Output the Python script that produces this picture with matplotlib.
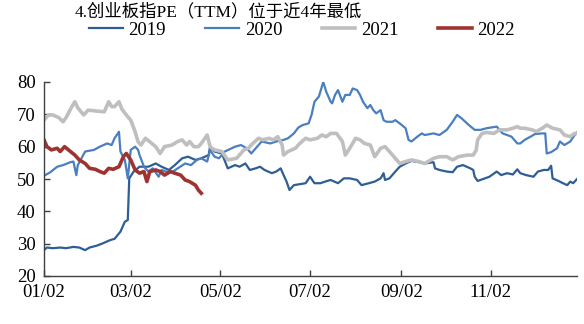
import matplotlib
matplotlib.use("Agg")
import matplotlib.pyplot as plt
import matplotlib.dates as mdates
import pandas as pd

title = "4.创业板指PE（TTM）位于近4年最低"
tick_dates = ["01-02", "03-02", "05-02", "07-02", "09-02", "11-02"]
y_ticks = [20, 30, 40, 50, 60, 70, 80]

dates_2019 = ["01-02", "01-04", "01-08", "01-13", "01-17", "01-22", "01-26", "01-30", "02-02", "02-07",
              "02-11", "02-16", "02-19", "02-23", "02-26", "02-28", "03-01", "03-04", "03-08", "03-14",
              "03-19", "03-23", "03-28", "04-01", "04-06", "04-10", "04-15", "04-19", "04-24", "04-25",
              "04-28", "05-03", "05-07", "05-12", "05-15", "05-19", "05-22", "05-26", "05-29", "06-01",
              "06-06", "06-09", "06-12", "06-14", "06-16", "06-18", "06-21", "06-25", "06-29", "07-02",
              "07-05", "07-09", "07-13", "07-16", "07-21", "07-25", "07-29", "08-03", "08-06", "08-11",
              "08-15", "08-19", "08-21", "08-22", "08-25", "08-29", "09-01", "09-05", "09-09", "09-14",
              "09-18", "09-24", "09-25", "09-28", "10-03", "10-07", "10-10", "10-14", "10-19", "10-21",
              "10-22", "10-24", "10-29", "11-01", "11-06", "11-09", "11-13", "11-17", "11-20", "11-22",
              "11-26", "12-01", "12-04", "12-08", "12-11", "12-13", "12-14", "12-18", "12-21", "12-24",
              "12-26", "12-28", "12-31"]
pe_2019 = [28.0, 28.8, 28.6, 28.8, 28.6, 29.0, 28.8, 28.0, 28.8, 29.4,
           30.1, 31.1, 31.5, 33.7, 36.8, 37.3, 50.2, 52.3, 53.8, 53.8,
           54.8, 53.8, 52.8, 54.3, 56.4, 56.9, 55.9, 56.4, 57.4, 60.0,
           58.5, 57.9, 53.3, 54.3, 53.8, 54.8, 52.8, 53.3, 53.8, 52.8,
           51.8, 52.3, 53.3, 51.2, 49.2, 46.6, 48.1, 48.4, 48.7, 50.7,
           48.7, 48.7, 49.3, 49.7, 48.7, 50.2, 50.2, 49.7, 48.1, 48.7,
           49.2, 50.2, 51.8, 49.7, 50.2, 52.3, 53.8, 54.8, 55.6, 55.2,
           54.8, 55.2, 53.3, 52.8, 52.3, 52.1, 53.8, 54.3, 53.3, 52.8,
           50.7, 49.4, 50.2, 50.7, 52.3, 51.2, 51.8, 51.4, 53.0, 51.8,
           51.2, 50.7, 52.3, 52.8, 52.8, 54.1, 50.2, 49.4, 48.7, 48.1,
           49.2, 48.7, 50.2]

dates_2020 = ["01-02", "01-06", "01-11", "01-15", "01-20", "01-22", "01-24", "01-25", "01-30", "02-05",
              "02-09", "02-14", "02-17", "02-19", "02-22", "02-23", "02-26", "02-28", "03-02", "03-05",
              "03-07", "03-08", "03-11", "03-14", "03-17", "03-21", "03-23", "03-26", "03-30", "04-03",
              "04-08", "04-12", "04-16", "04-19", "04-23", "04-25", "04-28", "05-01", "05-05", "05-12",
              "05-16", "05-20", "05-23", "05-27", "05-30", "06-05", "06-09", "06-14", "06-17", "06-21",
              "06-24", "06-27", "07-01", "07-03", "07-05", "07-08", "07-11", "07-13", "07-16", "07-17",
              "07-19", "07-21", "07-24", "07-26", "07-29", "07-31", "08-03", "08-05", "08-07", "08-10",
              "08-12", "08-14", "08-16", "08-19", "08-21", "08-23", "08-27", "08-29", "09-01", "09-05",
              "09-07", "09-09", "09-13", "09-16", "09-18", "09-24", "09-28", "10-03", "10-07", "10-10",
              "10-13", "10-18", "10-22", "10-26", "10-30", "11-06", "11-10", "11-16", "11-20", "11-22",
              "11-25", "11-29", "12-02", "12-07", "12-09", "12-10", "12-13", "12-17", "12-19", "12-22",
              "12-26", "12-29", "12-31"]
pe_2020 = [51.0, 52.0, 53.8, 54.3, 55.2, 55.4, 51.2, 54.3, 58.5, 59.0,
           60.0, 61.0, 60.5, 62.6, 64.6, 58.5, 55.9, 50.2, 59.0, 60.0,
           59.0, 57.4, 53.8, 52.3, 53.3, 50.7, 52.8, 52.3, 52.1, 53.3,
           54.8, 54.3, 55.9, 56.4, 55.4, 59.0, 56.9, 56.4, 58.5, 60.0,
           60.5, 59.5, 57.9, 60.0, 61.6, 61.0, 61.6, 62.1, 62.6, 64.1,
           65.9, 66.7, 67.2, 69.8, 73.9, 75.5, 80.0, 77.0, 73.9, 73.4,
           76.0, 77.5, 73.9, 76.0, 76.0, 78.0, 77.5, 76.0, 73.9, 71.9,
           72.9, 71.3, 70.3, 71.3, 68.2, 67.7, 67.7, 68.2, 67.2, 65.7,
           62.1, 61.6, 63.1, 64.1, 63.6, 64.1, 63.6, 65.2, 67.7, 69.8,
           68.8, 66.7, 65.2, 65.2, 65.7, 66.2, 64.1, 63.1, 61.0, 61.0,
           62.1, 63.1, 63.9, 64.1, 64.1, 57.9, 58.3, 59.5, 61.6, 60.5,
           61.6, 63.6, 64.6]

dates_2021 = ["01-02", "01-05", "01-08", "01-12", "01-15", "01-17", "01-21", "01-23", "01-25", "01-29",
              "02-01", "02-07", "02-12", "02-15", "02-17", "02-19", "02-22", "02-24", "02-27", "03-02",
              "03-05", "03-07", "03-09", "03-12", "03-15", "03-19", "03-22", "03-25", "03-30", "04-03",
              "04-06", "04-09", "04-11", "04-14", "04-17", "04-19", "04-23", "04-25", "04-28", "05-03",
              "05-07", "05-13", "05-18", "05-21", "05-24", "05-28", "05-31", "06-04", "06-07", "06-10",
              "06-13", "06-14", "06-17", "06-22", "06-25", "06-29", "07-02", "07-07", "07-10", "07-13",
              "07-16", "07-20", "07-24", "07-26", "07-29", "08-02", "08-05", "08-08", "08-12", "08-15",
              "08-19", "08-22", "08-25", "08-29", "09-01", "09-05", "09-09", "09-14", "09-18", "09-24",
              "09-28", "10-03", "10-07", "10-11", "10-17", "10-21", "10-23", "10-24", "10-27", "10-30",
              "11-04", "11-08", "11-13", "11-17", "11-20", "11-22", "11-25", "11-30", "12-03", "12-07",
              "12-10", "12-14", "12-19", "12-22", "12-26", "12-29", "12-31"]
pe_2021 = [68.2, 69.8, 69.8, 69.0, 67.7, 69.0, 72.4, 73.9, 72.0, 69.8,
           71.3, 71.0, 70.8, 73.9, 72.4, 72.4, 73.9, 71.6, 69.8, 68.2,
           64.6, 61.5, 60.5, 62.6, 61.5, 60.0, 57.9, 60.0, 60.5, 61.6,
           62.1, 60.5, 61.6, 60.0, 60.0, 61.0, 63.6, 60.0, 59.0, 58.5,
           55.9, 56.4, 59.0, 59.5, 61.0, 62.6, 62.1, 62.6, 62.1, 63.1,
           60.5, 57.4, 58.5, 59.5, 61.0, 62.6, 62.1, 62.6, 63.6, 63.1,
           64.1, 64.1, 61.6, 57.4, 59.5, 62.6, 62.1, 61.0, 60.5, 56.9,
           59.5, 60.0, 58.5, 56.4, 54.8, 55.4, 55.9, 55.4, 54.8, 56.4,
           56.9, 56.9, 55.9, 56.9, 57.4, 57.4, 58.9, 62.1, 64.1, 64.4,
           64.1, 65.2, 65.2, 65.7, 66.2, 65.7, 65.7, 65.2, 64.7, 65.7,
           66.7, 65.7, 65.2, 63.6, 63.1, 64.1, 64.1]

dates_2022 = ["01-02", "01-04", "01-07", "01-11", "01-13", "01-16", "01-20", "01-23", "01-26", "01-30",
              "02-02", "02-06", "02-09", "02-12", "02-15", "02-18", "02-22", "02-25", "02-27", "03-02",
              "03-05", "03-08", "03-11", "03-13", "03-15", "03-19", "03-22", "03-25", "03-29", "04-01",
              "04-05", "04-08", "04-11", "04-15", "04-17", "04-19"]
pe_2022 = [62.1, 60.0, 59.0, 59.5, 58.5, 60.0, 58.5, 57.4, 55.9, 54.8,
           53.3, 53.0, 52.3, 51.8, 53.3, 53.0, 53.8, 56.9, 57.9, 55.9,
           52.8, 51.8, 52.3, 49.2, 52.3, 52.8, 52.3, 51.2, 52.3, 51.8,
           51.2, 49.7, 49.2, 48.1, 46.6, 45.6]

series = [
    ("2019", dates_2019, pe_2019, "#2F5D95", 1.6),
    ("2020", dates_2020, pe_2020, "#4A7EBF", 1.6),
    ("2021", dates_2021, pe_2021, "#BFBFBF", 2.6),
    ("2022", dates_2022, pe_2022, "#9E3330", 2.6),
]

BASE_YEAR = "2021"


def to_dt(md):
    return pd.to_datetime([BASE_YEAR + "-" + d for d in md])


fig = plt.figure(figsize=(5.84, 3.24), dpi=100)
ax = fig.add_axes([44 / 584, 1 - 276 / 324, (577 - 44) / 584, (276 - 82) / 324])

handles = []
for name, d, v, c, lw in series:
    h, = ax.plot(to_dt(d), v, color=c, lw=lw, label=name, solid_joinstyle="round")
    handles.append(h)

serif = "Liberation Serif"
x0 = pd.Timestamp(BASE_YEAR + "-01-02")
ax.set_xlim(x0, x0 + pd.Timedelta(days=362.6))
ax.set_ylim(20, 80)
ax.set_yticks(y_ticks)
ax.set_xticks(to_dt(tick_dates))
ax.xaxis.set_major_formatter(mdates.DateFormatter("%m/%d"))
for s in ["top", "right"]:
    ax.spines[s].set_visible(False)
for s in ["left", "bottom"]:
    ax.spines[s].set_color("#404040")
    ax.spines[s].set_linewidth(1.0)
ax.tick_params(direction="in", length=4.5, width=1.0, color="#404040", labelsize=13.5, pad=6)
for lab in ax.get_xticklabels() + ax.get_yticklabels():
    lab.set_fontfamily(serif)

fig.text(75 / 584, 1 - 12 / 324, title, fontsize=12.5, va="center", ha="left",
         family=[serif, "Noto Sans CJK SC"])

fig.legend(handles=handles, loc="center", bbox_to_anchor=(302 / 584, 1 - 30 / 324), ncol=4,
           frameon=False, prop={"family": serif, "size": 13.5}, handlelength=1.8,
           handletextpad=0.3, columnspacing=2.1, borderaxespad=0, borderpad=0)

fig.savefig("out.png", dpi=100)
